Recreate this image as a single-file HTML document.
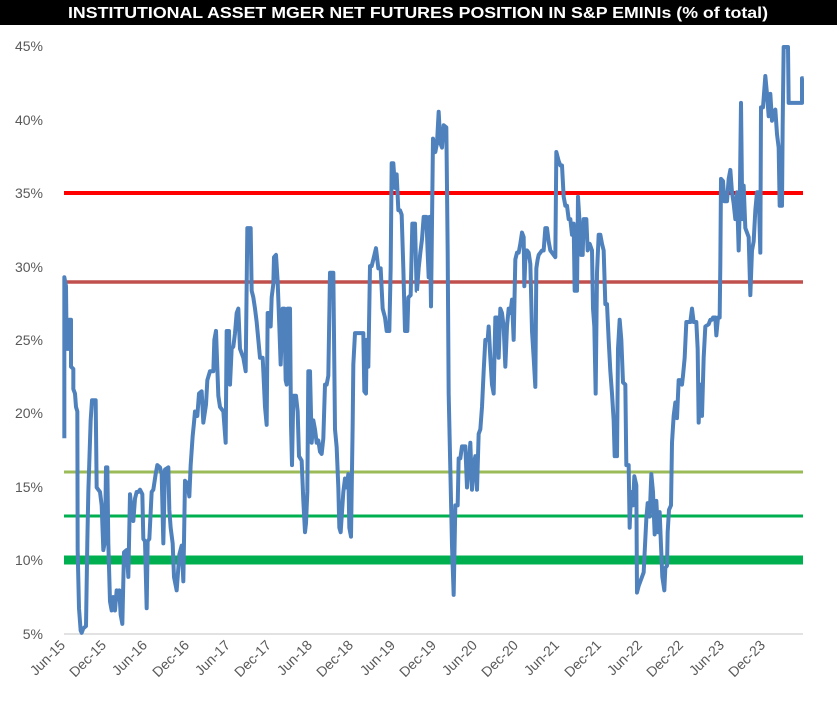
<!DOCTYPE html>
<html><head><meta charset="utf-8"><style>
html,body{margin:0;padding:0;background:#fff;}
svg{display:block;font-family:"Liberation Sans",sans-serif;}
</style></head><body>
<svg width="837" height="702" viewBox="0 0 837 702" xmlns="http://www.w3.org/2000/svg">
<rect x="0" y="0" width="837" height="702" fill="#fff"/>
<rect x="0" y="0" width="837" height="25" fill="#000"/>
<text x="418" y="18" fill="#fff" font-size="16" font-weight="bold" text-anchor="middle" textLength="700" lengthAdjust="spacingAndGlyphs">INSTITUTIONAL ASSET MGER NET FUTURES POSITION IN S&amp;P EMINIs (% of total)</text>
<g fill="#595959" font-size="14" text-anchor="end">
<text x="43" y="51">45%</text>
<text x="43" y="125">40%</text>
<text x="43" y="198">35%</text>
<text x="43" y="272">30%</text>
<text x="43" y="345">25%</text>
<text x="43" y="418">20%</text>
<text x="43" y="492">15%</text>
<text x="43" y="565">10%</text>
<text x="43" y="639">5%</text>
</g>
<line x1="64" y1="634" x2="803" y2="634" stroke="#d9d9d9" stroke-width="1.5"/>
<g fill="#595959" font-size="14" text-anchor="end">
<text transform="translate(66,646) rotate(-45)">Jun-15</text>
<text transform="translate(107,646) rotate(-45)">Dec-15</text>
<text transform="translate(148,646) rotate(-45)">Jun-16</text>
<text transform="translate(190,646) rotate(-45)">Dec-16</text>
<text transform="translate(231,646) rotate(-45)">Jun-17</text>
<text transform="translate(272,646) rotate(-45)">Dec-17</text>
<text transform="translate(313,646) rotate(-45)">Jun-18</text>
<text transform="translate(354,646) rotate(-45)">Dec-18</text>
<text transform="translate(396,646) rotate(-45)">Jun-19</text>
<text transform="translate(437,646) rotate(-45)">Dec-19</text>
<text transform="translate(478,646) rotate(-45)">Jun-20</text>
<text transform="translate(519,646) rotate(-45)">Dec-20</text>
<text transform="translate(560,646) rotate(-45)">Jun-21</text>
<text transform="translate(602,646) rotate(-45)">Dec-21</text>
<text transform="translate(643,646) rotate(-45)">Jun-22</text>
<text transform="translate(684,646) rotate(-45)">Dec-22</text>
<text transform="translate(725,646) rotate(-45)">Jun-23</text>
<text transform="translate(766,646) rotate(-45)">Dec-23</text>
</g>
<line x1="64" y1="193" x2="803" y2="193" stroke="#FF0000" stroke-width="4"/>
<line x1="64" y1="282" x2="803" y2="282" stroke="#C0504D" stroke-width="3.5"/>
<line x1="64" y1="472" x2="803" y2="472" stroke="#9BBB59" stroke-width="3"/>
<line x1="64" y1="516" x2="803" y2="516" stroke="#00B050" stroke-width="3"/>
<line x1="64" y1="560" x2="803" y2="560" stroke="#00B050" stroke-width="9"/>
<g fill="none" stroke="#4F81BD" stroke-width="4" stroke-linejoin="round">
<polyline vector-effect="non-scaling-stroke" transform="scale(0.33333,0.44723)" points="193,980 193,620 198,640 200,780 207,780 207,715 213,715 213,820 220,825 220,870 225,880 228,910 232,920 233,1230 237,1360 242,1410 245,1415 250,1405 258,1400 262,1210 265,1100 272,940 276,895 287,895 290,1090 300,1100 305,1130 310,1230 315,1210 318,1045 322,1045 325,1215 330,1345 335,1365 340,1335 345,1365 350,1320 355,1340 358,1320 362,1375 367,1395 372,1235 380,1230 385,1290 390,1105 395,1140 400,1165 405,1115 410,1100 415,1100 420,1095 427,1105 430,1205 435,1210 440,1360 443,1210 448,1205 455,1100 460,1095 467,1060 472,1040 480,1045 485,1060 490,1215 495,1050 505,1045 508,1140 512,1180 518,1215 522,1290 530,1320 538,1240 545,1220 550,1300 555,1075 562,1080 568,1110 572,1040 578,975 582,945 585,920 592,930 597,880 605,875 610,945 618,905 622,850 630,830 640,830 643,760 648,740 655,885 660,910 665,915 670,920 677,990 680,740 687,740 690,860 695,780 700,775 705,745 710,700 715,690 720,780 730,800 737,830 742,510 752,510 755,650 760,665 765,690 770,720 775,760 780,800 788,800 790,830 795,910 800,950 803,700 808,700 812,730 815,665 820,635 822,575 828,570 833,630 838,730 842,815 848,690 853,690 857,850 860,860 863,690 870,690 873,950 876,1040 880,885 888,885 893,920 897,1020 905,1030 910,1120 915,1190 918,1170 922,1100 925,830 930,830 935,990 940,940 945,960 950,990 955,985 960,1010 965,1015 970,980 975,860 980,860 985,840 990,610 1000,610 1002,750 1005,960 1010,1000 1015,1090 1018,1180 1022,1190 1030,1100 1035,1070 1040,1090 1045,1060 1048,1180 1053,1200 1058,950 1060,815 1065,745 1090,745 1093,875 1098,880 1100,760 1105,820 1110,595 1115,595 1120,580 1128,555 1135,600 1142,600 1148,690 1155,710 1160,740 1168,740 1172,600 1175,365 1180,365 1185,420 1190,390 1195,470 1200,470 1205,480 1210,600 1215,740 1222,740 1225,665 1232,660 1237,500 1245,500 1250,650 1251,650"/>
<polyline vector-effect="non-scaling-stroke" transform="translate(417,0) scale(0.33333,0.44723)" points="0,650 5,600 10,565 15,535 20,485 28,485 32,565 35,620 38,485 42,685 48,310 55,340 60,320 65,250 70,320 75,330 80,280 88,285 92,560 95,880 100,1050 105,1220 110,1330 115,1130 122,1130 125,1025 130,1025 135,998 145,998 150,1090 155,1040 160,990 165,1095 170,1040 175,1020 180,1095 185,970 190,960 195,910 200,830 205,760 212,760 215,730 220,800 225,860 230,880 235,710 240,710 245,800 250,690 255,700 260,730 265,820 270,730 275,690 280,700 285,670 290,760 295,580 300,565 305,565 310,545 315,520 320,530 322,640 325,580 330,560 335,565 340,590 345,740 350,800 355,865 358,600 362,580 365,570 370,565 375,560 380,560 385,510 390,510 395,540 400,560 405,565 410,570 415,575 418,340 425,360 430,370 435,370 440,440 445,460 450,460 455,490 460,490 465,525 470,500 473,650 480,650 483,440 488,500 492,570 497,570 500,490 508,490 512,560 518,545 525,560 528,690 532,730 536,880 540,610 545,525 550,525 555,545 560,560 565,680 570,680 575,760 580,830 585,880 590,940 593,1020 600,1020 603,780 608,715 613,760 618,855 625,860 628,1040 635,1040 638,1180 642,1100 648,1130 652,1065 658,1085 660,1325 665,1310 670,1300 675,1290 680,1280 683,1235 688,1160 692,1125 698,1155 703,1060 708,1100 713,1195 718,1120 723,1190 728,1145 732,1220 736,1290 742,1320 745,1270 750,1265 752,1190 756,1140 762,1130 765,990 770,930 775,900 780,935 785,850 790,850 795,860 798,840 803,800 808,720 815,720 820,720 825,690 830,720 838,720 842,780 845,945 850,860 855,930 860,800 865,730 875,725 880,715 885,715 888,710 895,710 898,750 903,710 908,710 910,590 912,400 918,405 922,450 930,450 935,400 940,380 945,430 950,455 955,490 960,430 965,560 968,470 972,230 976,490 980,415 985,510 990,520 995,530 1000,660 1005,560 1010,540 1015,470 1020,430 1025,430 1030,565 1032,240 1038,240 1042,200 1045,170 1050,210 1055,260 1060,210 1065,270 1070,250 1075,245 1080,300 1085,330 1088,460 1095,460 1097,280 1100,105 1113,105 1115,230 1155,230 1155,175 1160,175"/>
</g>
</svg>
</body></html>
